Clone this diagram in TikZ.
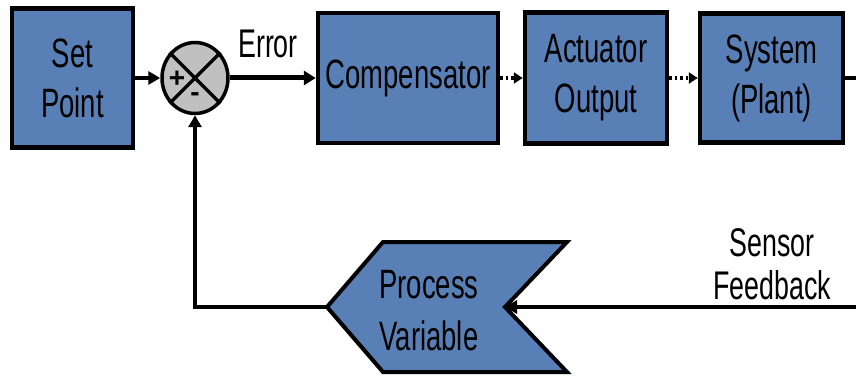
\documentclass[tikz,border=0pt]{standalone}
\usepackage{fontspec}
\setmainfont[FakeStretch=0.67]{Liberation Sans}
\newfontfamily\signfont{Liberation Sans}
\usetikzlibrary{arrows.meta,shapes.geometric}
\definecolor{boxblue}{RGB}{89,128,182}
\definecolor{sumgray}{RGB}{192,192,192}
\begin{document}
\begin{tikzpicture}[x=1pt,y=-1pt,
  blk/.style={draw=black, line width=4.5pt, fill=boxblue, align=center, inner sep=0pt,
              font=\fontsize{41}{50}\selectfont},
  lbl/.style={align=center, inner sep=0pt, font=\fontsize{40}{43}\selectfont},
  sig/.style={line width=4pt, -{Triangle[length=12pt,width=13pt]}},
  dotarrow/.style={line width=3.5pt, dash pattern=on 2.5pt off 3pt, -{Triangle[length=9pt,width=11pt]}},
  sumstyle/.style={ellipse, draw=black, line width=3.5pt, fill=sumgray, minimum width=66pt, minimum height=71pt, inner sep=0pt},
  sign/.style={inner sep=0pt, font=\signfont\bfseries\fontsize{28}{28}\selectfont},
]
\useasboundingbox (0,0) rectangle (856,377);
% blocks
\node[blk, minimum width=121pt, minimum height=139pt] (sp) at (72.5,78) {Set\\Point};
\node[sumstyle] (sum) at (195,78) {};
\node[blk, minimum width=180pt, minimum height=130pt] (comp) at (408,78) {Compensator};
\node[blk, minimum width=142pt, minimum height=131pt] (act) at (596,78) {Actuator\\Output};
\node[blk, minimum width=143pt, minimum height=129pt] (sys) at (771.5,78) {System\\(Plant)};
% cross in summing junction
\draw[line width=3.5pt] (sum.45) -- (sum.225);
\draw[line width=3.5pt] (sum.135) -- (sum.315);
\node[sign] (plus) at (177,79) {+};
\node[sign] (minus) at (195,97) {-};
% labels
\node[lbl, anchor=base] (err) at (268,58) {Error};
\node[lbl] (sens) at (772,264) {Sensor\\Feedback};
% process variable chevron
\coordinate (pvtip) at (327,307);
\coordinate (pvnotch) at (505,307);
\draw[line width=4pt, fill=boxblue, line join=miter] (pvtip) -- (383,242) -- (567,242) -- (pvnotch) -- (567,372) -- (383,372) -- cycle;
\node[align=center, inner sep=0pt, font=\fontsize{41}{52}\selectfont] (pv) at (429,311) {Process\\Variable};
% connectors
\coordinate (sysout) at (856,78);
\coordinate (fbin) at (856,307);
\draw[sig] (sp.east) -- (sum.west);
\draw[line width=5pt, -{Triangle[length=12pt,width=14pt]}] (sum.east) -- (comp.west);
\draw[dotarrow] (comp.east) -- (act.west);
\draw[dotarrow] (act.east) -- (sys.west);
\draw[line width=4pt] (sys.east) -- (sysout);
\draw[sig] (fbin) -- (pvnotch);
\draw[sig] (pvtip) -| (sum.south);
\end{tikzpicture}
\end{document}
